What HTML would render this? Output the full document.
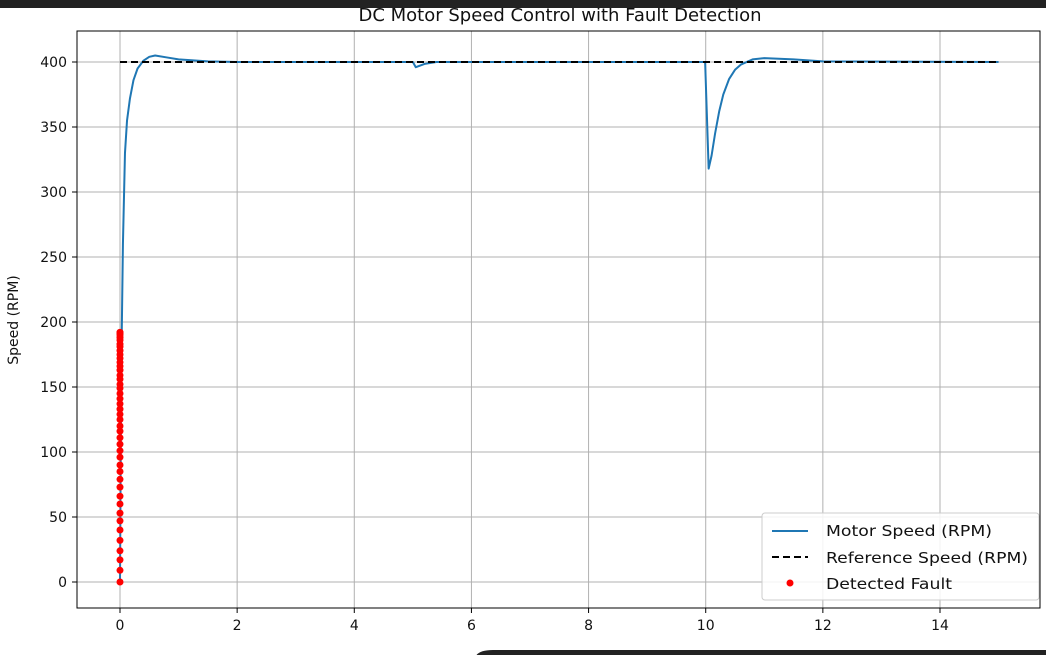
<!DOCTYPE html>
<html><head><meta charset="utf-8"><style>
body{margin:0;width:1046px;height:655px;overflow:hidden;background:#fff;font-family:"Liberation Sans","DejaVu Sans",sans-serif;}
svg text{font-family:"DejaVu Sans","Liberation Sans",sans-serif;}
</style></head><body>
<svg width="1046" height="655">
<text x="560" y="21" font-size="18" text-anchor="middle" fill="#111">DC Motor Speed Control with Fault Detection</text>
<rect x="0" y="0" width="1046" height="8" fill="#222"/>
<g id="grid"></g>
<g id="plot"></g>
<rect x="77" y="31" width="963" height="577" fill="none" stroke="#000" stroke-width="1"/>
<g id="ticks"></g>
<text x="18" y="320" font-size="14" text-anchor="middle" transform="rotate(-90 18 320)" fill="#111">Speed (RPM)</text>
<text x="560" y="664" font-size="14" text-anchor="middle" fill="#111">Time (s)</text>
<g>
<rect x="762" y="513" width="277" height="87" rx="3" fill="#fff" fill-opacity="0.85" stroke="#ccc"/>
<line x1="772" y1="531" x2="808" y2="531" stroke="#1f77b4" stroke-width="2"/>
<text x="826" y="536" font-size="15.5" textLength="166" lengthAdjust="spacingAndGlyphs" fill="#111">Motor Speed (RPM)</text>
<line x1="772" y1="557" x2="808" y2="557" stroke="#000" stroke-width="2" stroke-dasharray="7,4"/>
<text x="826" y="563" font-size="15.5" textLength="202" lengthAdjust="spacingAndGlyphs" fill="#111">Reference Speed (RPM)</text>
<circle cx="790" cy="583" r="3.5" fill="red"/>
<text x="826" y="589" font-size="15.5" textLength="126" lengthAdjust="spacingAndGlyphs" fill="#111">Detected Fault</text>
</g>
<path d="M475 655 L475 660 Q475 650 493 650 L1046 650 L1046 655 Z" fill="#222"/>
</svg>
<script>
const xTicks=[0,2,4,6,8,10,12,14];
const yTicks=[0,50,100,150,200,250,300,350,400];
const times=[0,0.01,0.02,0.03,0.05,0.085,0.12,0.17,0.23,0.3,0.4,0.5,0.6,0.8,1.0,1.5,2,5,5.05,5.2,5.4,6,9.99,10.05,10.1,10.16,10.23,10.3,10.4,10.5,10.6,10.8,11.0,11.5,12,15];
const speeds=[0,80,150,192,260,330,355,372,386,395,401,404,405,403.5,402,400.5,400,400,396,398.5,400,400,400,318,328,345,362,375,387,394,398,402,403,402,400.5,400];
const refTimes=[0,15];
const refSpeeds=[400,400];
const faultTimes=[0,0,0,0,0,0,0,0,0,0,0,0,0,0,0,0,0,0,0,0,0,0,0,0,0,0,0,0,0,0,0,0,0,0,0,0,0,0,0,0,0,0,0,0];
const faultSpeeds=[0,9,17,24,32,40,47,53,60,66,73,79,85,90,96,101,106,111,116,120,125,129,133,137,141,145,149,152,156,159,163,166,169,172,175,178,181,183,186,188,190,191,192,192];
const X=t=>120+t*(940-120)/14;
const Y=v=>582-v*(582-62)/400;
const NS='http://www.w3.org/2000/svg';
function mk(tag,attrs,parent){const e=document.createElementNS(NS,tag);for(const k in attrs)e.setAttribute(k,attrs[k]);document.getElementById(parent).appendChild(e);return e;}
xTicks.forEach(t=>{
 const g=mk('line',{x1:X(t),x2:X(t),y1:31,y2:608,stroke:'#b0b0b0','stroke-width':1},'grid');
 
 
 const tk=mk('line',{x1:X(t),x2:X(t),y1:608,y2:613,stroke:'#000'},'ticks');
 
 
 const l=mk('text',{x:X(t),y:630,'font-size':14,'text-anchor':'middle',fill:'#111'},'ticks');l.textContent=t;
 
 
});
yTicks.forEach(v=>{
 const g=mk('line',{x1:77,x2:1040,y1:Y(v),y2:Y(v),stroke:'#b0b0b0','stroke-width':1},'grid');
 
 
 const tk=mk('line',{x1:72,x2:77,y1:Y(v),y2:Y(v),stroke:'#000'},'ticks');
 
 
 const l=mk('text',{x:67,y:Y(v)+5,'font-size':14,'text-anchor':'end',fill:'#111'},'ticks');l.textContent=v;
 
 
});
const ml=mk('polyline',{points:times.map((t,i)=>X(t)+','+Y(speeds[i])).join(' '),fill:'none',stroke:'#1f77b4','stroke-width':2,'stroke-linejoin':'round'},'plot');


const rl=mk('polyline',{points:refTimes.map((t,i)=>X(t)+','+Y(refSpeeds[i])).join(' '),fill:'none',stroke:'#000','stroke-width':2,'stroke-dasharray':'7,4'},'plot');


faultSpeeds.forEach((v,i)=>{
 const c=mk('circle',{cx:X(faultTimes[i]),cy:Y(v),r:3.5,fill:'red'},'plot');
 
 
});
</script>
</body></html>
